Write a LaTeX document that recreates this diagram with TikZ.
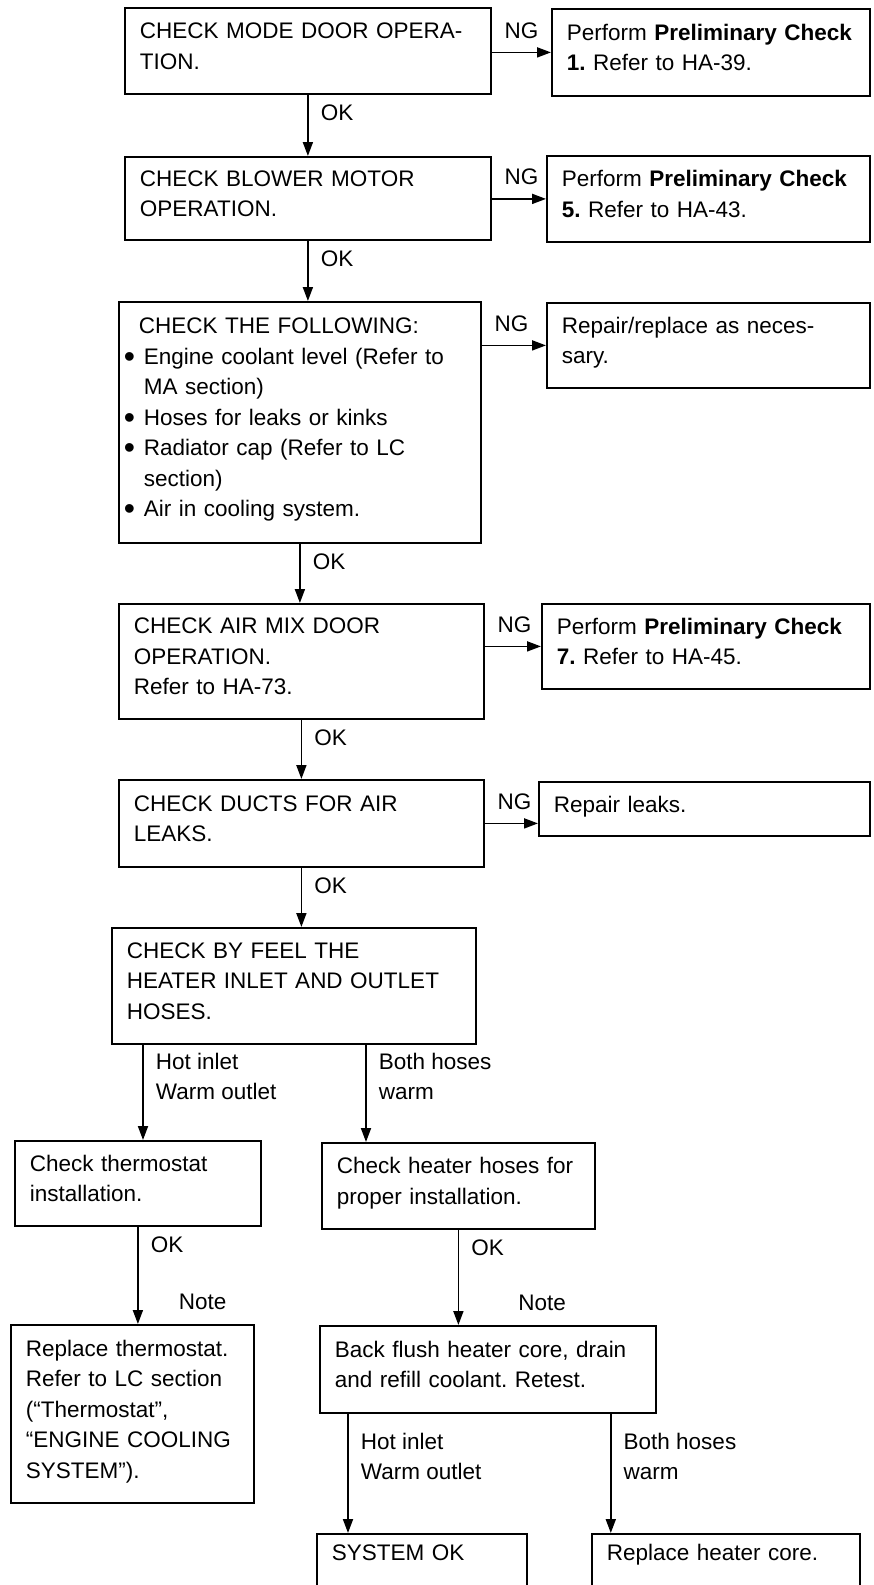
\documentclass[tikz,border=0pt]{standalone}
\usepackage{fontspec}
\setmainfont{Liberation Sans}
\usetikzlibrary{arrows.meta}
\newcommand{\itm}{\hspace*{-10pt}\makebox[20pt][l]{\fontsize{32}{0}\selectfont\raisebox{-3pt}{\textbullet}}}
\newcommand{\lift}[1]{\rule[-#1pt]{0pt}{0pt}}
\begin{document}
\begin{tikzpicture}[x=1pt,y=-1pt,>={Triangle[length=14pt,width=10pt]},
  txt/.style={font=\fontsize{22.5}{30.5}\selectfont\frenchspacing},
  box/.style={txt,draw,line width=1.8pt,anchor=north west,inner xsep=15pt,inner ysep=0pt,align=left,execute at end node={\lift{10}}},
  sz/.code 2 args={\pgfmathsetmacro\tw{#1-30}\edef\tmp{\noexpand\pgfkeysalso{minimum width=#1pt,minimum height=#2pt,text width=\tw pt}}\tmp},
  lbl/.style={txt,inner sep=2pt,align=left},
  flow/.style={->,line width=1.8pt}]
\useasboundingbox (0,0) rectangle (873,1585);
\node[box,sz={366}{86}] (mode) at (124,7) {CHECK MODE DOOR OPERA-\\TION.};
\node[box,sz={318}{87}] (pc1) at (551,8) {Perform \textbf{Preliminary Check}\\\textbf{1.} Refer to HA-39.};
\node[box,sz={366}{83}] (blower) at (124,156) {CHECK BLOWER MOTOR\\OPERATION.};
\node[box,sz={323}{86}] (pc5) at (546,155) {Perform \textbf{Preliminary Check}\\\textbf{5.} Refer to HA-43.};
\node[box,sz={362}{241}] (follow) at (118,301) {\hspace*{5pt}CHECK THE FOLLOWING:\\
  \itm Engine coolant level (Refer to\\\hspace*{10pt}MA section)\\
  \itm Hoses for leaks or kinks\\
  \itm Radiator cap (Refer to LC\\\hspace*{10pt}section)\\
  \itm Air in cooling system.\lift{10}};
\node[box,sz={323}{85}] (repair) at (546,302) {Repair/replace as neces-\\sary.};
\node[box,sz={365}{115}] (airmix) at (118,603) {CHECK AIR MIX DOOR\\OPERATION.\\Refer to HA-73.};
\node[box,sz={328}{85}] (pc7) at (541,603) {Perform \textbf{Preliminary Check}\\\textbf{7.} Refer to HA-45.};
\node[box,sz={365}{87}] (ducts) at (118,779) {CHECK DUCTS FOR AIR\\LEAKS.};
\node[box,sz={331}{54}] (leaks) at (538,781) {Repair leaks.};
\node[box,sz={364}{116}] (feel) at (111,927) {CHECK BY FEEL THE\\HEATER INLET AND OUTLET\\HOSES.};
\node[box,sz={246}{85}] (thermo) at (14,1140) {Check thermostat\\installation.};
\node[box,sz={273}{86}] (hoses) at (321,1142) {Check heater hoses for\\proper installation.};
\node[box,sz={243}{178}] (newthermo) at (10,1324) {Replace thermostat.\\Refer to LC section\\(“Thermostat”,\\“ENGINE COOLING\\SYSTEM”).};
\node[box,sz={336}{87}] (flush) at (319,1325) {Back flush heater core, drain\\and refill coolant. Retest.};
\node[box,sz={210}{10},text height=27pt,text depth=40pt] (sysok) at (316,1533) {SYSTEM OK};
\node[box,sz={268}{10},text height=27pt,text depth=40pt] (core) at (591,1533) {Replace heater core.};
\path ([xshift=32pt]feel.south west) coordinate (hotA) ([xshift=255pt]feel.south west) coordinate (bothA)
  ([xshift=29pt]flush.south west) coordinate (hotB) ([xshift=-46pt]flush.south east) coordinate (bothB);
\draw[flow] (mode.east |- pc1.west) -- node[lbl,pos=0,anchor=south west,xshift=10pt,yshift=11pt] (ng1) {NG} (pc1.west);
\draw[flow] (blower.east |- pc5.west) -- node[lbl,pos=0,anchor=south west,xshift=10pt,yshift=11pt] (ng2) {NG} (pc5.west);
\draw[flow] (follow.east |- repair.west) -- node[lbl,pos=0,anchor=south west,xshift=10pt,yshift=11pt] (ng3) {NG} (repair.west);
\draw[flow] (airmix.east |- pc7.west) -- node[lbl,pos=0,anchor=south west,xshift=10pt,yshift=11pt] (ng4) {NG} (pc7.west);
\draw[flow] (ducts.east) -- node[lbl,pos=0,anchor=south west,xshift=10pt,yshift=11pt] (ng5) {NG} (ducts.east -| leaks.west);
\draw[flow] (mode.south) -- node[lbl,pos=0,anchor=north west,xshift=10pt,yshift=-7pt] (ok1) {OK} (mode.south |- blower.north);
\draw[flow] (blower.south) -- node[lbl,pos=0,anchor=north west,xshift=10pt,yshift=-7pt] (ok2) {OK} (blower.south |- follow.north);
\draw[flow] (follow.south) -- node[lbl,pos=0,anchor=north west,xshift=10pt,yshift=-7pt] (ok3) {OK} (follow.south |- airmix.north);
\draw[flow] (airmix.south) -- node[lbl,pos=0,anchor=north west,xshift=10pt,yshift=-7pt] (ok4) {OK} (airmix.south |- ducts.north);
\draw[flow] (ducts.south) -- node[lbl,pos=0,anchor=north west,xshift=10pt,yshift=-7pt] (ok5) {OK} (ducts.south |- feel.north);
\draw[flow] (hotA) -- node[lbl,pos=0,anchor=north west,xshift=10pt,yshift=-5pt] (hot1) {Hot inlet\\Warm outlet} (hotA |- thermo.north);
\draw[flow] (bothA) -- node[lbl,pos=0,anchor=north west,xshift=10pt,yshift=-5pt] (both1) {Both hoses\\warm} (bothA |- hoses.north);
\draw[flow] (thermo.south) -- node[lbl,pos=0,anchor=north west,xshift=10pt,yshift=-7pt] (ok6) {OK}
  node[lbl,pos=1,anchor=south west,xshift=38pt,yshift=11pt] (note1) {Note} (thermo.south |- newthermo.north);
\draw[flow] (hoses.south) -- node[lbl,pos=0,anchor=north west,xshift=10pt,yshift=-7pt] (ok7) {OK}
  node[lbl,pos=1,anchor=south west,xshift=57pt,yshift=11pt] (note2) {Note} (hoses.south |- flush.north);
\draw[flow] (hotB) -- node[lbl,pos=0,anchor=north west,xshift=10pt,yshift=-16pt] (hot2) {Hot inlet\\Warm outlet} (hotB |- sysok.north);
\draw[flow] (bothB) -- node[lbl,pos=0,anchor=north west,xshift=10pt,yshift=-16pt] (both2) {Both hoses\\warm} (bothB |- core.north);
\end{tikzpicture}
\end{document}
